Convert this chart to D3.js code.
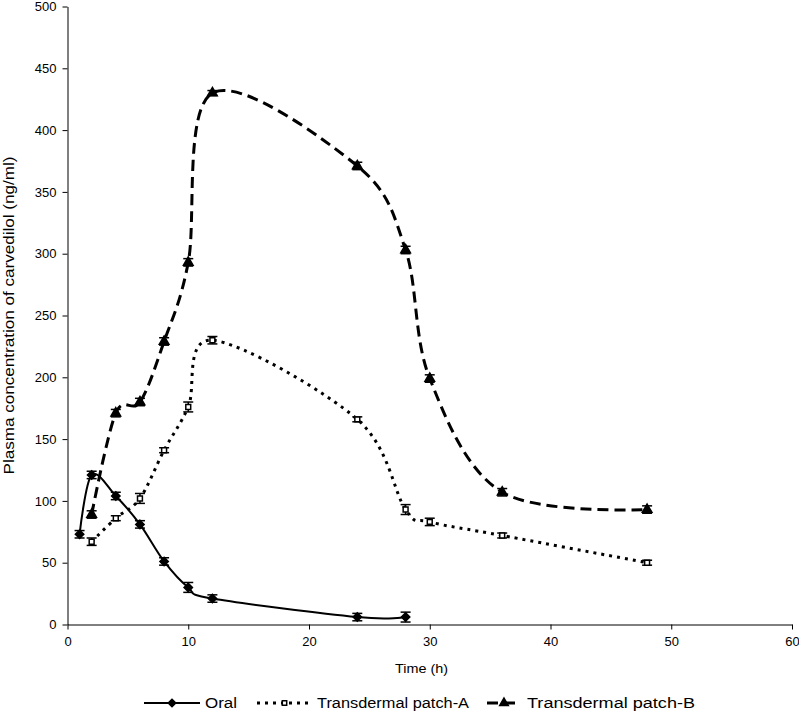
<!DOCTYPE html>
<html><head><meta charset="utf-8">
<script src="https://cdn.jsdelivr.net/npm/d3@7"></script>
<style>body{margin:0;background:#fff}svg{display:block;font-family:"Liberation Sans",Arial,sans-serif}</style>
</head><body><svg id="c" width="799" height="712"></svg>
<script>
const oralTime = [1, 2, 4, 6, 8, 10, 12, 24, 28];
const oralConc = [73, 121, 104, 81, 51, 30, 21, 6, 6];
const oralErr  = [3, 3, 3, 3, 3, 4, 3, 3, 4];
const patchTime = [2, 4, 6, 8, 10, 12, 24, 28, 30, 36, 48];
const patchAConc = [67, 86, 102, 141, 176, 230, 166, 93, 83, 72, 50];
const patchAErr  = [3, 2, 4, 2, 4, 3, 2, 4, 3, 2, 2];
const patchBConc = [89, 171, 180, 229, 293, 430, 371, 303, 199, 107, 93];
const patchBErr  = [3, 3, 3, 3, 3, 2, 3, 3, 3, 3, 3];
const xTicks = [0, 10, 20, 30, 40, 50, 60];
const yTicks = [0, 50, 100, 150, 200, 250, 300, 350, 400, 450, 500];
const seriesNames = ["Oral", "Transdermal patch-A", "Transdermal patch-B"];

const svg = d3.select("#c");
const x = d3.scaleLinear().domain([0, 60]).range([67.5, 792]);
const y = d3.scaleLinear().domain([0, 500]).range([624.5, 6.5]);

const xAxis = svg.append("g").attr("transform", `translate(0,${y(0)})`)
  .call(d3.axisBottom(x).tickValues(xTicks).tickSize(5).tickSizeOuter(0).tickPadding(7));
const yAxis = svg.append("g").attr("transform", `translate(${x(0)},0)`)
  .call(d3.axisLeft(y).tickValues(yTicks).tickSize(5).tickSizeOuter(0).tickPadding(6));
[xAxis, yAxis].forEach(a => {
  a.selectAll("path,line").attr("stroke", "#000").attr("stroke-width", 1);
  a.selectAll("text").attr("font-size", 13).attr("fill", "#000")
   .attr("font-family", "Liberation Sans, Arial, sans-serif");
});

svg.append("text").attr("x", 421.5).attr("y", 673).attr("text-anchor", "middle")
  .attr("font-size", 13).attr("textLength", 53).attr("lengthAdjust", "spacingAndGlyphs").text("Time (h)");
svg.append("text").attr("transform", `translate(14,${(y(0)+y(500))/2}) rotate(-90)`)
  .attr("text-anchor", "middle").attr("font-size", 14)
  .attr("textLength", 318).attr("lengthAdjust", "spacingAndGlyphs")
  .text("Plasma concentration of carvedilol (ng/ml)");

const series = [
  {t: oralTime, v: oralConc, e: oralErr, dash: null, w: 2, sym: d3.symbolDiamond2, size: 45, fill: "#000"},
  {t: patchTime, v: patchAConc, e: patchAErr, dash: "3,5", w: 3, sym: d3.symbolSquare, size: 24, fill: "#fff"},
  {t: patchTime, v: patchBConc, e: patchBErr, dash: "11,6", w: 3, sym: d3.symbolTriangle, size: 40, fill: "#000"}
];

const line = d3.line().x(d => x(d[0])).y(d => y(d[1])).curve(d3.curveCardinal.tension(0));

series.forEach(s => {
  const pts = s.t.map((t, i) => [t, s.v[i], s.e[i]]);
  svg.append("path").datum(pts).attr("d", line).attr("fill", "none")
    .attr("stroke", "#000").attr("stroke-width", s.w)
    .attr("stroke-dasharray", s.dash);
  const g = svg.append("g");
  pts.forEach(p => {
    const cx = x(p[0]);
    g.append("line").attr("x1", cx).attr("x2", cx).attr("y1", y(p[1]+p[2])).attr("y2", y(p[1]-p[2]))
      .attr("stroke", "#000").attr("stroke-width", 1.5);
    [p[1]+p[2], p[1]-p[2]].forEach(v => g.append("line").attr("x1", cx-5).attr("x2", cx+5)
      .attr("y1", y(v)).attr("y2", y(v)).attr("stroke", "#000").attr("stroke-width", 1.5));
    g.append("path").attr("d", d3.symbol(s.sym, s.size)())
      .attr("transform", `translate(${cx},${y(p[1])})`)
      .attr("fill", s.fill).attr("stroke", "#000").attr("stroke-width", 1.5);
  });
});

// legend
const leg = [
  {x1: 144, x2: 200, tx: 205, tl: 32},
  {x1: 257, x2: 312, tx: 317, tl: 152},
  {x1: 487, x2: 521, tx: 527, tl: 168}
];
const ly = 703;
leg.forEach((l, i) => {
  const s = series[i];
  svg.append("line").attr("x1", l.x1).attr("x2", l.x2).attr("y1", ly).attr("y2", ly)
    .attr("stroke", "#000").attr("stroke-width", s.w).attr("stroke-dasharray", s.dash);
  svg.append("path").attr("d", d3.symbol(s.sym, s.size * 0.8)())
    .attr("transform", `translate(${(l.x1+l.x2)/2},${ly})`)
    .attr("fill", s.fill).attr("stroke", "#000").attr("stroke-width", 1.5);
  svg.append("text").attr("x", l.tx).attr("y", ly + 5).attr("font-size", 14)
    .attr("textLength", l.tl).attr("lengthAdjust", "spacingAndGlyphs").text(seriesNames[i]);
});
</script></body></html>
